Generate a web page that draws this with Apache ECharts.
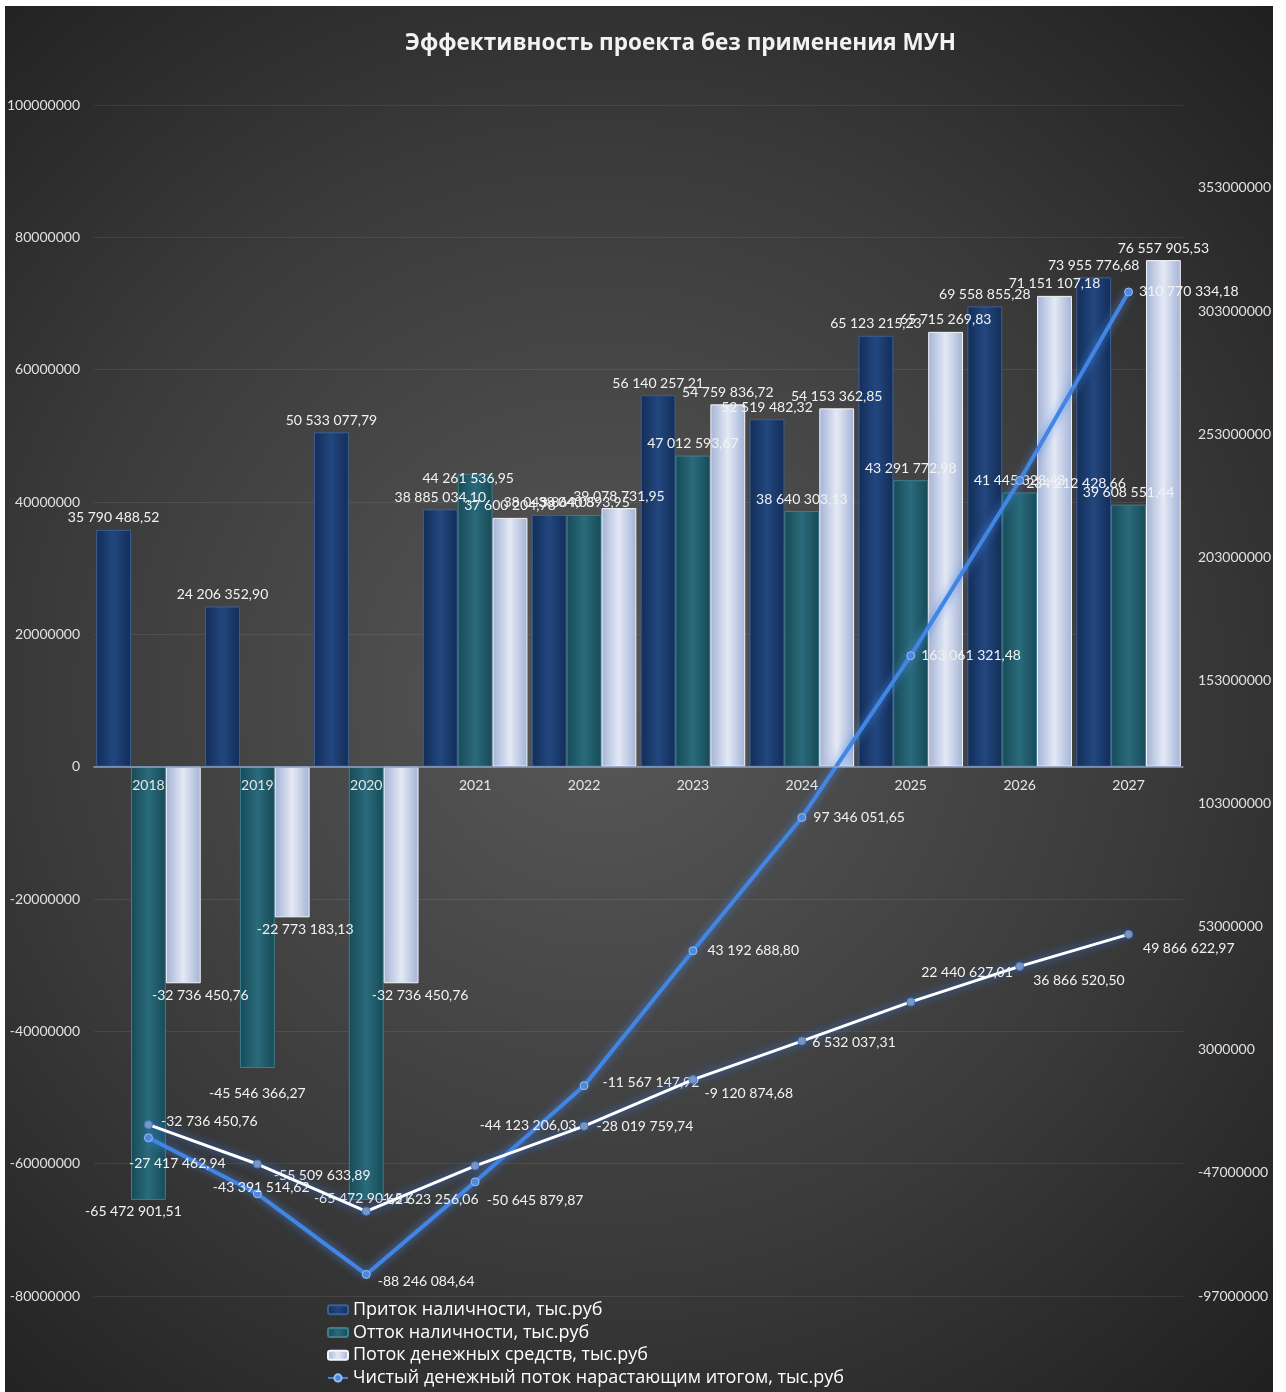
<!DOCTYPE html>
<html>
<head>
<meta charset="utf-8">
<script src="https://cdn.jsdelivr.net/npm/echarts@6/dist/echarts.min.js"></script>
<style>
html,body{margin:0;padding:0;background:#ffffff;width:1286px;height:1392px;overflow:hidden;}
#c{position:absolute;left:5px;top:6px;width:1268px;height:1386px;}
</style>
</head>
<body>
<div id="c"></div>
<script>
// ---- data ----
const years = ['2018','2019','2020','2021','2022','2023','2024','2025','2026','2027'];
const inflow = [35790488.52, 24206352.90, 50533077.79, 38885034.10, 38043864.05, 56140257.21, 52519482.32, 65123215.23, 69558855.28, 73955776.68];
const outflow = [-65472901.51, -45546366.27, -65472901.51, 44261536.95, 38040893.95, 47012593.67, 38640303.13, 43291772.98, 41445323.43, 39608551.44];
const cashFlow = [-32736450.76, -22773183.13, -32736450.76, 37600204.78, 39078731.95, 54759836.72, 54153362.85, 65715269.83, 71151107.18, 76557905.53];
const cumulative = [-32736450.76, -55509633.89, -88246084.64, -50645879.87, -11567147.92, 43192688.80, 97346051.65, 163061321.48, 234212428.66, 310770334.18];
const discountedCumulative = [-27417462.94, -43391514.62, -62623256.06, -44123206.03, -28019759.74, -9120874.68, 6532037.31, 22440627.01, 36866520.50, 49866622.97];
const leftMin = -80000000, leftMax = 100000000, leftStep = 20000000;
const rightMin = -97000000, rightMax = 386700000;
const rightTicks = [-97000000, -47000000, 3000000, 53000000, 103000000, 153000000, 203000000, 253000000, 303000000, 353000000];

const names = {
  inflow: 'Приток наличности, тыс.руб',
  outflow: 'Отток наличности, тыс.руб',
  cash: 'Поток денежных средств, тыс.руб',
  cum: 'Чистый денежный поток нарастающим итогом, тыс.руб',
  disc: 'Дисконтированный поток нарастающим итогом'
};

// ---- label placement (style only) ----
const outflowLabelShift = [[-15,0],[0,13],[-4,-13],[-7,17],[0,0],[0,0],[0,0],[0,0],[0,0],[0,0]];
const cashLabelShift = [[17,0],[13,0],[19,0],[0,0],[0,0],[0,0],[0,0],[0,0],[0,0],[0,0]];
const cumLabelShift = [[2,-16],[6,-18],[1,7],[1,19],[8,-3],[4,0],[1,0],[0,0],[-4,3],[0,0]];
const discLabelShift = [[-30,39],[-55,23],[5,-12],[-6,-40],[2,0],[1,14],[0,1],[0,-29],[3,14],[4,14]];

// grid geometry (container px)
const G = { left: 89, right: 90, top: 99, bottom: 96, height: 1386 };

function fmt(v){
  const s = Math.abs(v).toFixed(2).split('.');
  const i = s[0].replace(/\B(?=(\d{3})+(?!\d))/g, ' ');
  return (v < 0 ? '-' : '') + i + ',' + s[1];
}
function barData(vals, shifts){
  return vals.map((v, k) => ({
    value: v,
    label: { position: v < 0 ? 'bottom' : 'top', offset: shifts ? shifts[k] : [0,0] }
  }));
}
function lineData(vals, shifts){
  return vals.map((v, k) => ({ value: v, label: { offset: shifts[k] } }));
}
function hGrad(edge, mid){
  return { type:'linear', x:0, y:0, x2:1, y2:0, colorStops:[
    {offset:0, color:edge},{offset:0.5, color:mid},{offset:1, color:edge}] };
}

// place the category axis at the zero line of the left axis
const plotH = G.height - G.top - G.bottom;
const zeroFromBottom = plotH * (0 - leftMin) / (leftMax - leftMin);

const labelFont = { color:'#f2f2f2', fontSize:14, fontFamily:'Lato, "Open Sans", sans-serif' };
const tickFont = { color:'#e0e0e0', fontSize:14, fontFamily:'Lato, "Open Sans", sans-serif' };

const chart = echarts.init(document.getElementById('c'), null, {renderer:'canvas'});
chart.setOption({
  backgroundColor: { type:'radial', x:0.47, y:0.5, r:0.8, colorStops:[
    {offset:0, color:'#585858'}, {offset:0.55, color:'#3a3a3a'}, {offset:1, color:'#1c1c1c'}] },
  animation: false,
  title: {
    text: 'Эффективность проекта без применения МУН',
    left: 400, top: 26, padding: 0,
    textStyle: { color:'#f2f2f2', fontSize:22.5, fontWeight:'bold', fontFamily:'"Open Sans", "Noto Sans", sans-serif' }
  },
  legend: {
    orient: 'vertical', left: 322, top: 1293, padding: 0, itemGap: 1,
    itemWidth: 20, itemHeight: 9,
    data: [names.inflow, names.outflow, names.cash, names.cum],
    textStyle: { color:'#ffffff', fontSize:18, lineHeight:21.7, fontFamily:'"Open Sans", "Noto Sans", sans-serif' }
  },
  grid: { left: G.left, right: G.right, top: G.top, bottom: G.bottom, containLabel: false, outerBoundsMode: 'none' },
  xAxis: {
    type: 'category', data: years, position: 'bottom', z: 10,
    offset: -zeroFromBottom,
    axisLine: { onZero: false, lineStyle: { color:'#8aa0c4', width:1.5 } },
    axisTick: { show:false },
    axisLabel: { ...tickFont, color:'#e6e6e6', margin:12 }
  },
  yAxis: [
    {
      type:'value', min:leftMin, max:leftMax, interval:leftStep,
      axisLine:{show:false}, axisTick:{show:false},
      axisLabel:{ ...tickFont, margin:14, formatter: v => String(v) },
      splitLine:{ lineStyle:{ color:'rgba(255,255,255,0.08)', width:1 } }
    },
    {
      type:'value', min:rightMin, max:rightMax,
      axisLine:{show:false}, axisTick:{show:false},
      axisLabel:{ ...tickFont, customValues: rightTicks, margin:15, formatter: v => String(v) },
      splitLine:{ show:false }
    }
  ],
  series: [
    {
      name: names.inflow, type:'bar', yAxisIndex:0,
      data: barData(inflow, null),
      barGap:'0%', barCategoryGap:'4%',
      itemStyle:{ color: hGrad('#132d57', '#22477f'), borderColor:'#3c5f96', borderWidth:1 },
      label:{ show:true, distance:5, formatter: p => fmt(p.value), ...labelFont }
    },
    {
      name: names.outflow, type:'bar', yAxisIndex:0,
      data: barData(outflow, outflowLabelShift),
      barGap:'0%', barCategoryGap:'4%',
      itemStyle:{ color: hGrad('#174a57', '#2a6b7b'), borderColor:'#3d7f8e', borderWidth:1 },
      label:{ show:true, distance:5, formatter: p => fmt(p.value), ...labelFont }
    },
    {
      name: names.cash, type:'bar', yAxisIndex:0,
      data: barData(cashFlow, cashLabelShift),
      barGap:'0%', barCategoryGap:'4%',
      itemStyle:{ color: hGrad('#a3b3d6', '#e4e9f5'), borderColor:'#f4f6fb', borderWidth:1 },
      label:{ show:true, distance:5, formatter: p => fmt(p.value), ...labelFont }
    },
    {
      name: names.cum, type:'line', yAxisIndex:1,
      data: lineData(cumulative, cumLabelShift),
      symbol:'circle', symbolSize:8, z:5,
      lineStyle:{ color:'#4285e2', width:4, shadowColor:'rgba(70,140,240,0.8)', shadowBlur:8 },
      itemStyle:{ color:'#4d89dd', borderColor:'#9fbdf0', borderWidth:1 },
      label:{ show:true, position:'right', distance:6, formatter: p => fmt(p.value), ...labelFont }
    },
    {
      name: names.disc, type:'line', yAxisIndex:1,
      data: lineData(discountedCumulative, discLabelShift),
      symbol:'circle', symbolSize:8, z:6,
      lineStyle:{ color:'#ffffff', width:3, shadowColor:'rgba(50,120,230,0.95)', shadowBlur:8 },
      itemStyle:{ color:'#7f95bb', borderColor:'#3b7ddb', borderWidth:1 },
      label:{ show:true, position:'right', distance:6, formatter: p => fmt(p.value), ...labelFont }
    }
  ]
});
</script>
</body>
</html>
